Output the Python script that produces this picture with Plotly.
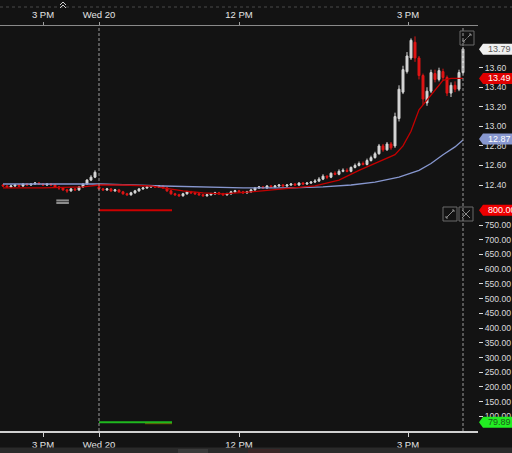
import plotly.graph_objects as go

# ---------------- data ----------------
bar_index = list(range(116))

opens = [12.40, 12.39, 12.38, 12.39, 12.40, 12.39, 12.41, 12.40, 12.41, 12.42, 12.41, 12.40, 12.41, 12.40, 12.38,
         12.37, 12.35, 12.34, 12.36, 12.35,
         12.38, 12.41, 12.45, 12.48,
         12.38,
         12.36, 12.35, 12.36, 12.34, 12.35, 12.33, 12.31, 12.30, 12.32, 12.34, 12.36, 12.37, 12.38, 12.39, 12.38, 12.39,
         12.37, 12.34, 12.31, 12.30, 12.29, 12.31, 12.33, 12.32, 12.31, 12.30, 12.29, 12.30, 12.31, 12.32, 12.31, 12.30,
         12.31, 12.33, 12.34, 12.33, 12.32, 12.33,
         12.35, 12.37, 12.38, 12.37, 12.39, 12.38, 12.39, 12.40,
         12.39, 12.40, 12.41, 12.40, 12.42, 12.41, 12.42, 12.43, 12.44,
         12.46, 12.49, 12.48, 12.52, 12.51, 12.54, 12.55, 12.54,
         12.58, 12.60, 12.62, 12.61, 12.65,
         12.68, 12.72, 12.80, 12.76, 12.82,
         12.80, 13.08, 13.35, 13.56, 13.70, 13.86, 13.70, 13.52, 13.24, 13.36, 13.54, 13.48, 13.56, 13.50, 13.34,
         13.42, 13.38, 13.55]

highs = [12.41, 12.40, 12.40, 12.41, 12.41, 12.42, 12.42, 12.42, 12.43, 12.43, 12.42, 12.42, 12.42, 12.41, 12.39,
         12.38, 12.36, 12.37, 12.37, 12.39,
         12.42, 12.46, 12.50, 12.55,
         12.39,
         12.37, 12.37, 12.37, 12.36, 12.36, 12.34, 12.32, 12.33, 12.35, 12.37, 12.38, 12.39, 12.40, 12.40, 12.40, 12.40,
         12.38, 12.35, 12.32, 12.31, 12.32, 12.34, 12.34, 12.33, 12.32, 12.31, 12.31, 12.32, 12.33, 12.33, 12.32, 12.32,
         12.34, 12.35, 12.35, 12.34, 12.34, 12.36,
         12.38, 12.39, 12.39, 12.40, 12.40, 12.40, 12.41, 12.41,
         12.41, 12.42, 12.42, 12.43, 12.43, 12.43, 12.44, 12.46, 12.48,
         12.51, 12.50, 12.53, 12.54, 12.56, 12.57, 12.57, 12.59,
         12.62, 12.64, 12.64, 12.67, 12.70,
         12.74, 12.82, 12.82, 12.84, 12.84,
         13.14, 13.42, 13.62, 13.76, 13.90, 13.92, 13.72, 13.54, 13.40, 13.58, 13.58, 13.60, 13.59, 13.52, 13.45,
         13.46, 13.58, 13.81]

lows = [12.38, 12.37, 12.37, 12.38, 12.38, 12.38, 12.39, 12.39, 12.40, 12.40, 12.39, 12.39, 12.39, 12.37, 12.35,
        12.34, 12.32, 12.33, 12.34, 12.34,
        12.37, 12.40, 12.44, 12.47,
        12.35,
        12.34, 12.34, 12.33, 12.33, 12.32, 12.30, 12.29, 12.29, 12.31, 12.33, 12.35, 12.36, 12.37, 12.37, 12.37, 12.36,
        12.33, 12.30, 12.29, 12.28, 12.28, 12.30, 12.31, 12.30, 12.29, 12.28, 12.28, 12.29, 12.30, 12.30, 12.29, 12.29,
        12.30, 12.32, 12.32, 12.31, 12.31, 12.32,
        12.34, 12.36, 12.36, 12.36, 12.37, 12.37, 12.38, 12.38,
        12.38, 12.39, 12.39, 12.39, 12.40, 12.40, 12.41, 12.42, 12.43,
        12.45, 12.46, 12.47, 12.50, 12.50, 12.53, 12.53, 12.53,
        12.57, 12.59, 12.60, 12.60, 12.64,
        12.67, 12.71, 12.74, 12.75, 12.76,
        12.78, 13.05, 13.33, 13.54, 13.68, 13.66, 13.48, 13.22, 13.21, 13.34, 13.45, 13.46, 13.47, 13.31, 13.30,
        13.35, 13.36, 13.53]

closes = [12.39, 12.38, 12.39, 12.40, 12.39, 12.41, 12.40, 12.41, 12.42, 12.41, 12.40, 12.41, 12.40, 12.38, 12.37,
          12.35, 12.34, 12.36, 12.35, 12.38,
          12.41, 12.45, 12.48, 12.53,
          12.36,
          12.35, 12.36, 12.34, 12.35, 12.33, 12.31, 12.30, 12.32, 12.34, 12.36, 12.37, 12.38, 12.39, 12.38, 12.39, 12.37,
          12.34, 12.31, 12.30, 12.29, 12.31, 12.33, 12.32, 12.31, 12.30, 12.29, 12.30, 12.31, 12.32, 12.31, 12.30, 12.31,
          12.33, 12.34, 12.33, 12.32, 12.33, 12.35,
          12.37, 12.38, 12.37, 12.39, 12.38, 12.39, 12.40, 12.39,
          12.40, 12.41, 12.40, 12.42, 12.41, 12.42, 12.43, 12.44, 12.46,
          12.49, 12.48, 12.52, 12.51, 12.54, 12.55, 12.54, 12.58,
          12.60, 12.62, 12.61, 12.65, 12.68,
          12.72, 12.80, 12.76, 12.82, 12.78,
          13.10, 13.38, 13.58, 13.72, 13.88, 13.70, 13.52, 13.28, 13.36, 13.55, 13.48, 13.57, 13.50, 13.34, 13.42,
          13.38, 13.55, 13.79]

tick_positions = [10, 24, 59, 101.25]
tick_labels = ["3 PM", "Wed 20", "12 PM", "3 PM"]

fast_ma_x = [0, 10, 20, 24, 30, 37, 40, 45, 50, 55, 62, 70, 78, 84, 89, 94, 98, 100, 102, 104, 106, 108, 110, 112, 115]
fast_ma_y = [12.37, 12.37, 12.38, 12.40, 12.40, 12.39, 12.37, 12.34, 12.32, 12.31, 12.33, 12.36, 12.39, 12.45,
             12.55, 12.64, 12.71, 12.80, 12.95, 13.17, 13.27, 13.38, 13.47, 13.49, 13.49]

slow_ma_x = [0, 24, 40, 60, 72, 80, 87, 93, 99, 104, 107, 110, 113, 115]
slow_ma_y = [12.41, 12.41, 12.39, 12.37, 12.37, 12.38, 12.40, 12.43, 12.48, 12.55, 12.62, 12.71, 12.79, 12.86]

price_ticks = [12.40, 12.60, 12.80, 13.00, 13.20, 13.40, 13.60]
ind_ticks = [100, 150, 200, 250, 300, 350, 400, 450, 500, 550, 600, 650, 700, 750]

ind_x = [24, 42.25]
ind_upper = [800, 800]
ind_lower = [79.89, 79.89]
ind_signal_x = [35.5, 42.25]
ind_signal = [76, 76]

marker_x = [14.9, 14.9]
marker_y = [12.216, 12.242]

session_lines = [24, 115]

last_price = 13.79
fast_last = 13.49
slow_last = 12.87
upper_last = 800.00
lower_last = 79.89

# ---------------- layout geometry ----------------
W, H = 512, 453
PLOT_TOP, PLOT_BOT, PLOT_RIGHT = 26, 431, 478
BG = "#131313"


def X(px):
    return px / W


def Y(py):
    return 1 - py / H


fig = go.Figure()

fig.add_trace(go.Candlestick(
    x=bar_index, open=opens, high=highs, low=lows, close=closes,
    increasing=dict(line=dict(color="#d6d6d6", width=1), fillcolor="#d6d6d6"),
    decreasing=dict(line=dict(color="#e01515", width=1), fillcolor="#e01515"),
    whiskerwidth=0, hoverinfo="skip", xaxis="x", yaxis="y"))

fig.add_trace(go.Scatter(x=slow_ma_x, y=slow_ma_y, mode="lines",
                         line=dict(color="#8797cf", width=1.3), hoverinfo="skip",
                         xaxis="x", yaxis="y"))
fig.add_trace(go.Scatter(x=fast_ma_x, y=fast_ma_y, mode="lines",
                         line=dict(color="#c40000", width=1.3), hoverinfo="skip",
                         xaxis="x", yaxis="y"))

fig.add_trace(go.Scatter(x=marker_x, y=marker_y, mode="markers",
                         marker=dict(symbol="line-ew", size=9, line=dict(width=2, color="#8c8c8c")),
                         hoverinfo="skip", xaxis="x", yaxis="y"))

fig.add_trace(go.Scatter(x=ind_x, y=ind_upper, mode="lines",
                         line=dict(color="#cc0000", width=2), hoverinfo="skip",
                         xaxis="x2", yaxis="y2"))
fig.add_trace(go.Scatter(x=ind_signal_x, y=ind_signal, mode="lines",
                         line=dict(color="#6a5200", width=1.5), hoverinfo="skip",
                         xaxis="x", yaxis="y2"))
fig.add_trace(go.Scatter(x=ind_x, y=ind_lower, mode="lines",
                         line=dict(color="#1fb81f", width=2), hoverinfo="skip",
                         xaxis="x", yaxis="y2"))

# axis ranges derived from pixel positions of ticks in the reference
px_per_price = 97.75
price_top = 13.60 + (67.7 - PLOT_TOP) / px_per_price
price_bot = 12.40 - (PLOT_BOT - 185.0) / px_per_price
px_per_ind = 0.2944
ind_top = 800 + (210.3 - PLOT_TOP) / px_per_ind
ind_bot = 100 - (PLOT_BOT - 416.4) / px_per_ind
x_left = -0.75
x_right = (PLOT_RIGHT - 3) / 4.0

font_family = "Liberation Sans, Arial, sans-serif"
xtickfont = dict(family=font_family, size=9.5, color="#e4e4e4")
ytickfont = dict(family=font_family, size=8.6, color="#dadada")

ydom = [Y(PLOT_BOT), Y(PLOT_TOP)]

fig.update_layout(
    width=W, height=H,
    margin=dict(l=0, r=0, t=0, b=0),
    paper_bgcolor=BG, plot_bgcolor=BG,
    showlegend=False,
    xaxis=dict(domain=[0, X(PLOT_RIGHT)], range=[x_left, x_right],
               tickmode="array", tickvals=tick_positions, ticktext=tick_labels,
               ticks="outside", ticklen=4, tickcolor="#d0d0d0", tickwidth=1,
               showline=True, linecolor="#d0d0d0", linewidth=1.5,
               showgrid=False, zeroline=False, tickfont=xtickfont,
               rangeslider=dict(visible=False), anchor="y", fixedrange=True),
    xaxis2=dict(overlaying="x", matches="x", side="top", anchor="y",
                tickmode="array", tickvals=tick_positions, ticktext=tick_labels,
                ticks="outside", ticklen=3, tickcolor="#a0a0a0",
                showline=True, linecolor="#8a8a8a", linewidth=1.5,
                showgrid=False, zeroline=False, tickfont=xtickfont, fixedrange=True),
    yaxis=dict(domain=ydom, range=[price_bot, price_top], side="right", anchor="x",
               tickmode="array", tickvals=price_ticks, tickformat=".2f",
               ticks="outside", ticklen=4, tickcolor="#dadada",
               showline=False, showgrid=False, zeroline=False,
               tickfont=ytickfont, fixedrange=True),
    yaxis2=dict(overlaying="y", range=[ind_bot, ind_top], side="right", anchor="x",
                tickmode="array", tickvals=ind_ticks, tickformat=".2f",
                ticks="outside", ticklen=4, tickcolor="#dadada",
                showline=False, showgrid=False, zeroline=False,
                tickfont=ytickfont, fixedrange=True),
)

shapes = []
# session / last-bar dashed lines
for sx in session_lines:
    shapes.append(dict(type="line", xref="x", yref="paper", x0=sx, x1=sx,
                       y0=Y(PLOT_BOT), y1=Y(PLOT_TOP),
                       line=dict(color="#9a9a9a", width=1, dash="3px,2px"), layer="above"))

# top dotted separator and bottom strip
shapes.append(dict(type="line", xref="paper", yref="paper", x0=0, x1=1, y0=Y(7), y1=Y(7),
                   line=dict(color="#4a4a4a", width=1, dash="dot")))
shapes.append(dict(type="rect", xref="paper", yref="paper", x0=0, x1=1, y0=0, y1=Y(447.5),
                   fillcolor="#2a2a2a", line=dict(width=0)))
shapes.append(dict(type="rect", xref="paper", yref="paper", x0=X(178), x1=X(208), y0=0, y1=Y(449),
                   fillcolor="#3a3a3a", line=dict(width=0)))
shapes.append(dict(type="rect", xref="paper", yref="paper", x0=X(248), x1=X(280), y0=0, y1=Y(449),
                   fillcolor="#3a2626", line=dict(width=0)))

# double chevron at top
for off in (0, 3):
    shapes.append(dict(type="path", xref="paper", yref="paper",
                       path="M {},{} L {},{} L {},{}".format(X(60), Y(5 + off), X(63), Y(2 + off), X(66), Y(5 + off)),
                       line=dict(color="#cfcfcf", width=1)))

# value labels on the right axis (arrow-shaped boxes)
label_path = "M -33,0 L -29,5.5 L 0,5.5 L 0,-5.5 L -29,-5.5 Z"
labels = [
    ("y", last_price, "#f0f0f0", "#5a5a5a"),
    ("y", fast_last, "#e00000", "#ffffff"),
    ("y", slow_last, "#8797cf", "#ffffff"),
    ("y2", upper_last, "#ee0000", "#ffffff"),
    ("y2", lower_last, "#22ee22", "#1d5a1d"),
]
annotations = []
for yref, val, bg, fg in labels:
    shapes.append(dict(type="path", xref="paper", yref=yref, xsizemode="pixel", ysizemode="pixel",
                       xanchor=1.0, yanchor=val, path=label_path,
                       fillcolor=bg, line=dict(width=0), layer="above"))
    annotations.append(dict(xref="paper", yref=yref, x=X(486), y=val, xanchor="left", yanchor="middle",
                            text="{:.2f}".format(val), showarrow=False,
                            font=dict(family=font_family, size=9, color=fg)))

# icon buttons
def icon_box(x0, y0, x1, y1):
    shapes.append(dict(type="rect", xref="paper", yref="paper", x0=X(x0), x1=X(x1), y0=Y(y1), y1=Y(y0),
                       line=dict(color="#6a6a6a", width=1), fillcolor="rgba(0,0,0,0)", layer="above"))


def seg(x0, y0, x1, y1, color="#8a8a8a"):
    shapes.append(dict(type="line", xref="paper", yref="paper", x0=X(x0), x1=X(x1), y0=Y(y0), y1=Y(y1),
                       line=dict(color=color, width=1), layer="above"))


# expand icon top right
icon_box(460, 31, 474, 45)
seg(467.5, 37.5, 471, 34)
seg(469, 34, 471, 34)
seg(471, 34, 471, 36)
seg(466.5, 38.5, 463, 42)
seg(463, 40, 463, 42)
seg(463, 42, 465, 42)

# expand + close icons in middle
icon_box(443, 207, 457, 221)
seg(446, 218, 454, 210)
seg(452, 210, 454, 210)
seg(454, 210, 454, 212)
seg(446, 216, 446, 218)
seg(446, 218, 448, 218)
icon_box(459, 207, 473, 221)
seg(462, 210, 470, 218)
seg(470, 210, 462, 218)

fig.update_layout(shapes=shapes, annotations=annotations)

fig.write_html("out.html",
               config={"displayModeBar": False, "staticPlot": True},
               post_script="document.body.style.margin='0';document.body.style.overflow='hidden';"
                           "document.body.style.background='" + BG + "';")
